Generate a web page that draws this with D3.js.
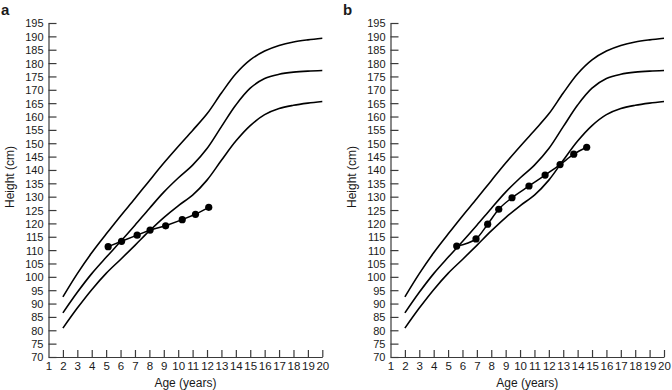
<!DOCTYPE html>
<html>
<head>
<meta charset="utf-8">
<script src="https://cdn.jsdelivr.net/npm/d3@7"></script>
<style>
  html, body { margin: 0; padding: 0; background: #fff; }
  svg { display: block; }
  text { font-family: "Liberation Sans", Arial, Helvetica, sans-serif; fill: #1a1a1a; }
</style>
</head>
<body>
<svg id="chart" width="672" height="390"></svg>
<script>
// ---- Data ----
const curveAges   = [2, 3, 4, 5, 6, 7, 8, 9, 10, 11, 12, 13, 14, 15, 16, 17, 18, 19, 20];
const upperCurve  = [92.5, 101.2, 109, 116, 122.8, 129.3, 136, 142.6, 148.8, 154.8, 161, 168.8, 176, 181.2, 184.5, 186.6, 187.9, 188.7, 189.3];
const middleCurve = [86.5, 94.2, 101.2, 107.3, 113.2, 119.3, 125.6, 131.7, 137, 141.8, 148, 156.2, 164.3, 170.6, 174.2, 175.8, 176.6, 177, 177.2];
const lowerCurve  = [80.8, 88.3, 95.2, 101.3, 106.5, 111.8, 117.2, 122.2, 126.6, 130.6, 136.2, 143.6, 150.8, 156.6, 160.7, 163, 164.2, 165, 165.6];

const patientAAges    = [5.14, 6.07, 7.15, 8.05, 9.13, 10.28, 11.2, 12.12];
const patientAHeights = [111.3, 113.3, 115.6, 117.5, 119.1, 121.4, 123.4, 126.0];

const patientBAges    = [5.6, 6.94, 7.75, 8.52, 9.44, 10.62, 11.74, 12.78, 13.73, 14.63];
const patientBHeights = [111.5, 114.2, 119.7, 125.3, 129.6, 134.0, 138.1, 142.0, 145.9, 148.5];

const yTickValues = d3.range(70, 196, 5);
const xTickValues = d3.range(1, 21, 1);
const panelLabels = ["a", "b"];
const xTitle = "Age (years)";
const yTitle = "Height (cm)";

// ---- Drawing ----
const svg = d3.select("#chart");
const panels = [
  { label: panelLabels[0], left: 48.5, right: 322.3, ages: patientAAges, heights: patientAHeights, curve: d3.curveLinear, labelX: 1, labelY: 15 },
  { label: panelLabels[1], left: 390.5, right: 664, ages: patientBAges, heights: patientBHeights, curve: d3.curveMonotoneX, labelX: 343, labelY: 15 }
];
const plotTop = 23, plotBottom = 357;

panels.forEach(p => {
  const x = d3.scaleLinear().domain([1, 20]).range([p.left, p.right]);
  const y = d3.scaleLinear().domain([70, 195]).range([plotBottom, plotTop]);
  const g = svg.append("g");

  // panel letter
  g.append("text").attr("x", p.labelX).attr("y", p.labelY)
    .attr("font-size", 15).attr("font-weight", "bold").text(p.label);

  // y axis (ticks pointing inward)
  const yAxis = g.append("g").attr("transform", `translate(${p.left},0)`)
    .call(d3.axisRight(y).tickValues(yTickValues).tickSize(8).tickSizeOuter(0).tickFormat(d3.format("d")));
  yAxis.selectAll("text").attr("x", -5).attr("text-anchor", "end").attr("font-size", 11).attr("dy", "0.36em");

  // x axis (ticks pointing inward)
  const xAxis = g.append("g").attr("transform", `translate(0,${plotBottom})`)
    .call(d3.axisTop(x).tickValues(xTickValues).tickSize(7).tickSizeOuter(0).tickFormat(d3.format("d")));
  xAxis.selectAll("text").attr("y", 13).attr("dy", 0).attr("font-size", 11.5);
  xAxis.selectAll(".tick").filter(d => d === 1).select("line").remove();

  [yAxis, xAxis].forEach(a => {
    a.select(".domain").attr("stroke", "#3a3a3a").attr("stroke-width", 1.2);
    a.selectAll(".tick line").attr("stroke", "#3a3a3a").attr("stroke-width", 1.2);
    a.selectAll("text").attr("fill", "#1a1a1a").attr("font-family", '"Liberation Sans", Arial, sans-serif');
  });

  // titles
  g.append("text").attr("x", (p.left + p.right) / 2).attr("y", 387)
    .attr("text-anchor", "middle").attr("font-size", 12).text(xTitle);
  g.append("text").attr("transform", `translate(${p.left - 35},177) rotate(-90)`)
    .attr("text-anchor", "middle").attr("font-size", 12).text(yTitle);

  // reference curves
  const line = d3.line().x(d => x(d[0])).y(d => y(d[1])).curve(d3.curveCatmullRom.alpha(0.5));
  [upperCurve, middleCurve, lowerCurve].forEach(c => {
    g.append("path").datum(curveAges.map((a, i) => [a, c[i]]))
      .attr("d", line).attr("fill", "none").attr("stroke", "#000").attr("stroke-width", 1.6);
  });

  // patient data
  const pts = p.ages.map((a, i) => [a, p.heights[i]]);
  const pline = d3.line().x(d => x(d[0])).y(d => y(d[1])).curve(p.curve);
  g.append("path").datum(pts).attr("d", pline)
    .attr("fill", "none").attr("stroke", "#000").attr("stroke-width", 1.5);
  g.selectAll("circle.pt").data(pts).enter().append("circle")
    .attr("cx", d => x(d[0])).attr("cy", d => y(d[1])).attr("r", 3.6).attr("fill", "#000");
});
</script>
</body>
</html>
